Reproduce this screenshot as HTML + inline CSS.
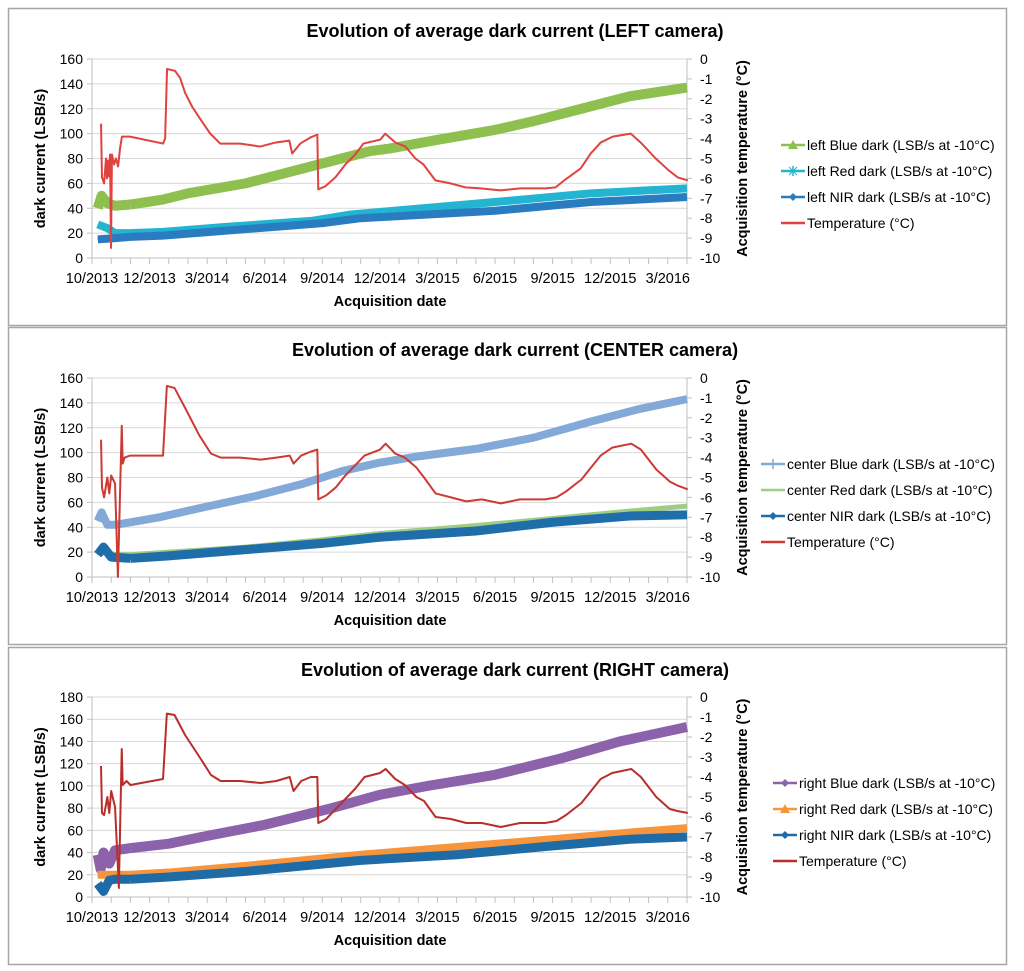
<!DOCTYPE html>
<html><head><meta charset="utf-8"><style>
body{margin:0;background:#fff;width:1024px;height:971px;overflow:hidden;font-family:"Liberation Sans",sans-serif}
svg{display:block}
</style></head><body>
<svg id="s" width="1024" height="971" xmlns="http://www.w3.org/2000/svg"></svg>
<script>
const xTickLabels=["10/2013","12/2013","3/2014","6/2014","9/2014","12/2014","3/2015","6/2015","9/2015","12/2015","3/2016"];
const leftBlue=[[0.3,40],[0.5,50],[0.8,44],[1.2,42],[2.0,43],[3.7,47],[5,52],[8,60],[10.5,70],[13,80],[14.5,86],[15.5,88],[18,95],[21,103],[23,110],[25.5,120],[28,130],[31,137]];
const leftRed=[[0.3,27],[0.8,24],[1.2,20],[2.0,20],[3.7,21],[7,25],[11.5,30],[13.5,35],[15,37],[21,45],[26,52],[31,56]];
const leftNir=[[0.3,15],[1.2,16],[2.0,17],[3.7,18],[7,22],[12,28],[14,32],[21,38],[26,45],[31,49]];
const leftTemp=[[0.47,-3.25],[0.52,-5.94],[0.63,-6.25],[0.73,-5.0],[0.78,-6.0],[0.83,-5.1],[0.89,-5.9],[0.94,-4.8],[0.99,-9.5],[1.04,-4.8],[1.15,-5.3],[1.25,-5.0],[1.36,-5.4],[1.46,-4.5],[1.56,-3.9],[1.98,-3.9],[3.70,-4.25],[3.81,-4.0],[3.91,-0.5],[4.33,-0.6],[4.59,-0.95],[4.85,-1.7],[5.22,-2.4],[5.63,-3.0],[6.16,-3.75],[6.68,-4.25],[7.72,-4.25],[8.76,-4.4],[9.55,-4.2],[10.28,-4.1],[10.43,-4.75],[10.85,-4.25],[11.37,-3.95],[11.74,-3.8],[11.79,-6.55],[12.15,-6.4],[12.68,-5.95],[13.2,-5.3],[13.72,-4.8],[14.14,-4.25],[15.02,-4.05],[15.28,-3.75],[15.81,-4.2],[16.33,-4.4],[16.85,-5.0],[17.27,-5.3],[17.89,-6.1],[18.68,-6.25],[19.46,-6.45],[20.24,-6.5],[21.28,-6.6],[22.33,-6.5],[23.63,-6.5],[24.15,-6.45],[24.67,-6.05],[25.46,-5.5],[25.98,-4.75],[26.5,-4.2],[27.13,-3.9],[28.07,-3.75],[28.59,-4.2],[29.37,-5.0],[30.05,-5.6],[30.52,-5.95],[31.04,-6.1]];
const centerBlue=[[0.3,45],[0.5,52],[0.8,42],[1.2,42],[2.0,44],[3.5,48],[5.5,55],[8.5,65],[11,75],[13,85],[15,92],[17,97],[20,103],[23,112],[26,125],[28.5,135],[31,143]];
const centerRed=[[0.3,20],[1.2,18],[2.0,18],[4,20],[8,24],[12,30],[15,35],[19,40],[24,47],[28,53],[31,57]];
const centerNir=[[0.3,18],[0.6,24],[1.0,16],[2.0,15],[4,17],[8,22],[12,27],[15,32],[20,37],[24,44],[28,49],[31,50]];
const centerTemp=[[0.47,-3.1],[0.52,-5.5],[0.63,-6.0],[0.8,-5.0],[0.9,-5.8],[1.0,-4.9],[1.2,-5.3],[1.35,-10],[1.55,-2.4],[1.6,-4.3],[1.7,-4.0],[1.98,-3.9],[3.7,-3.9],[3.9,-0.4],[4.3,-0.5],[4.85,-1.5],[5.6,-2.9],[6.2,-3.8],[6.7,-4.0],[7.7,-4.0],[8.8,-4.1],[9.6,-4.0],[10.3,-3.9],[10.5,-4.3],[10.9,-3.9],[11.4,-3.7],[11.74,-3.6],[11.79,-6.1],[12.2,-5.9],[12.7,-5.5],[13.2,-4.9],[13.7,-4.4],[14.2,-3.9],[15.0,-3.6],[15.3,-3.3],[15.8,-3.8],[16.3,-4.0],[16.9,-4.5],[17.3,-5.0],[17.9,-5.8],[18.7,-6.0],[19.5,-6.2],[20.3,-6.1],[21.3,-6.3],[22.3,-6.1],[23.6,-6.1],[24.2,-6.0],[24.7,-5.7],[25.5,-5.1],[26.0,-4.5],[26.5,-3.9],[27.1,-3.5],[28.1,-3.3],[28.6,-3.6],[29.4,-4.6],[30.1,-5.2],[30.5,-5.4],[31.04,-5.6]];
const rightBlue=[[0.3,38],[0.45,25],[0.6,40],[0.9,30],[1.2,42],[2.0,44],[4,48],[6,55],[9,65],[12.5,80],[15,92],[17.5,100],[21,110],[24.5,125],[27.5,140],[31,153]];
const rightRed=[[0.3,20],[1.2,20],[2.0,20],[4,22],[8,28],[11,33],[14,38],[19,45],[24,52],[28,58],[31,62]];
const rightNir=[[0.3,12],[0.6,5],[0.9,15],[1.2,16],[2.0,16],[4,18],[8,23],[11,28],[14,33],[19,38],[24,46],[28,52],[31,54]];
const rightTemp=[[0.47,-3.45],[0.52,-5.8],[0.63,-5.9],[0.8,-5.0],[0.9,-5.8],[1.0,-4.7],[1.2,-5.5],[1.4,-9.55],[1.55,-2.6],[1.6,-4.4],[1.8,-4.2],[2.0,-4.4],[3.7,-4.1],[3.9,-0.83],[4.3,-0.9],[4.85,-1.9],[5.6,-3.0],[6.2,-3.9],[6.7,-4.2],[7.7,-4.2],[8.8,-4.3],[9.6,-4.2],[10.3,-4.0],[10.5,-4.7],[10.9,-4.2],[11.4,-4.0],[11.74,-4.0],[11.79,-6.3],[12.2,-6.1],[12.7,-5.6],[13.2,-5.1],[13.7,-4.6],[14.2,-4.0],[15.0,-3.8],[15.3,-3.6],[15.8,-4.1],[16.3,-4.4],[16.9,-5.0],[17.3,-5.2],[17.9,-6.0],[18.7,-6.1],[19.5,-6.3],[20.3,-6.3],[21.3,-6.5],[22.3,-6.3],[23.6,-6.3],[24.2,-6.2],[24.7,-5.9],[25.5,-5.3],[26.0,-4.7],[26.5,-4.1],[27.1,-3.8],[28.1,-3.6],[28.6,-4.0],[29.4,-5.0],[30.1,-5.6],[30.5,-5.7],[31.04,-5.8]];

const NS="http://www.w3.org/2000/svg";
const svg=document.getElementById('s');
function mk(tag,attrs,parent,txt){const e=document.createElementNS(NS,tag);for(const k in attrs)e.setAttribute(k,attrs[k]);if(txt!==undefined)e.textContent=txt;(parent||svg).appendChild(e);return e;}

const panels=[
 {name:'left',title:'Evolution of average dark current (LEFT camera)',y0:8,top:59,bot:258,ymax:160,lx:781,
  series:[{d:leftBlue,c:'#8dc04f',lab:'left Blue dark (LSB/s at -10°C)',m:'tri',w:10},{d:leftRed,c:'#22b4d0',lab:'left Red dark (LSB/s at -10°C)',m:'star',w:8},{d:leftNir,c:'#2a7cc0',lab:'left NIR dark (LSB/s at -10°C)',m:'dia',w:8}],temp:leftTemp,tc:'#e0423f'},
 {name:'center',title:'Evolution of average dark current (CENTER camera)',y0:327,top:378,bot:577,ymax:160,lx:761,
  series:[{d:centerBlue,c:'#82a9d8',lab:'center Blue dark (LSB/s at -10°C)',m:'plus',w:8},{d:centerRed,c:'#9fcd83',lab:'center Red dark (LSB/s at -10°C)',m:'none',w:5},{d:centerNir,c:'#1f6eaa',lab:'center NIR dark (LSB/s at -10°C)',m:'dia',w:9}],temp:centerTemp,tc:'#cc3a33'},
 {name:'right',title:'Evolution of average dark current (RIGHT camera)',y0:647,top:697,bot:897,ymax:180,lx:773,
  series:[{d:rightBlue,c:'#8c62ab',lab:'right Blue dark (LSB/s at -10°C)',m:'dia',w:10},{d:rightRed,c:'#f7953c',lab:'right Red dark (LSB/s at -10°C)',m:'tri',w:8},{d:rightNir,c:'#1e6ba6',lab:'right NIR dark (LSB/s at -10°C)',m:'dia',w:9}],temp:rightTemp,tc:'#b82e2b'}
];
const X0=92,X1=687,XMAX=31;
panels.forEach(p=>{
 const g=mk('g',{});
 
 
 const fr=mk('rect',{x:8.5,y:p.y0+0.5,width:998,height:317,fill:'#fff',stroke:'#a6a6a6','stroke-width':1.5},g);
 
 const t=mk('text',{x:515,y:p.y0+29,'text-anchor':'middle','font-size':18,'font-weight':'bold',fill:'#000'},g,p.title);
 
 const sx=m=>X0+(X1-X0)*m/XMAX;
 const sy=v=>p.bot-(p.bot-p.top)*v/p.ymax;
 const st=c=>p.bot-(p.bot-p.top)*(c+10)/10;
 const step=20, n=p.ymax/step;
 for(let i=0;i<=n;i++){
  const y=sy(i*step);
  if(i>0){const gl=mk('line',{x1:X0,x2:X1,y1:y,y2:y,stroke:'#d9d9d9','stroke-width':1},g);}
  mk('line',{x1:X0-5,x2:X0,y1:y,y2:y,stroke:'#bfbfbf'},g);
  const tl=mk('text',{x:83,y:y+5,'text-anchor':'end','font-size':14,fill:'#000'},g,String(i*step));
  
 }
 for(let i=0;i<=10;i++){
  const c=-i,y=st(c);
  mk('line',{x1:X1,x2:X1+5,y1:y,y2:y,stroke:'#bfbfbf'},g);
  const tl=mk('text',{x:700,y:y+5,'font-size':14,fill:'#000'},g,String(c));
  
 }
 mk('line',{x1:X0,x2:X0,y1:p.top,y2:p.bot,stroke:'#bfbfbf'},g);
 mk('line',{x1:X1,x2:X1,y1:p.top,y2:p.bot,stroke:'#bfbfbf'},g);
 mk('line',{x1:X0,x2:X1,y1:p.bot,y2:p.bot,stroke:'#bfbfbf'},g);
 for(let i=0;i<=XMAX;i++){mk('line',{x1:sx(i),x2:sx(i),y1:p.bot,y2:p.bot+6,stroke:'#bfbfbf'},g);}
 xTickLabels.forEach((l,i)=>{
  const tl=mk('text',{x:sx(i*3),y:p.bot+25,'text-anchor':'middle','font-size':14.5,fill:'#000'},g,l);
  
 });
 const xt=mk('text',{x:390,y:p.bot+48,'text-anchor':'middle','font-size':14.5,'font-weight':'bold'},g,'Acquisition date');
 
 const ym=(p.top+p.bot)/2;
 const yt=mk('text',{x:0,y:0,'text-anchor':'middle','font-size':14.5,'font-weight':'bold',transform:`translate(45,${ym}) rotate(-90)`},g,'dark current (LSB/s)');
 
 const y2=mk('text',{x:0,y:0,'text-anchor':'middle','font-size':14.5,'font-weight':'bold',transform:`translate(747,${ym}) rotate(-90)`},g,'Acquisition temperature (°C)');
 
 p.series.forEach((s,si)=>{
  const pts=s.d.map(q=>sx(q[0])+','+sy(q[1]));
  const a=s.d.filter(q=>q[0]<=2.01), b=s.d.filter(q=>q[0]>=2.0);
  const thin=mk('polyline',{points:pts.join(' '),fill:'none',stroke:s.c,'stroke-width':2},g);
  
  [a,b].forEach(seg=>{
   const pl=mk('polyline',{points:seg.map(q=>sx(q[0])+','+sy(q[1])).join(' '),fill:'none',stroke:s.c,'stroke-width':s.w,'stroke-linejoin':'round'},g);
   
  });
 });
 const tp=mk('polyline',{points:p.temp.map(q=>sx(q[0])+','+st(q[1])).join(' '),fill:'none',stroke:p.tc,'stroke-width':2,'stroke-linejoin':'round'},g);
 
 const items=p.series.concat([{c:p.tc,lab:'Temperature (°C)',m:'none'}]);
 items.forEach((it,i)=>{
  const ly=p.top+86+i*26;
  const lg=mk('g',{},g);
  
  mk('line',{x1:p.lx,x2:p.lx+24,y1:ly,y2:ly,stroke:it.c,'stroke-width':2.5},lg);
  const cx=p.lx+12;
  if(it.m==='tri')mk('polygon',{points:`${cx-5},${ly+4} ${cx+5},${ly+4} ${cx},${ly-5}`,fill:it.c},lg);
  if(it.m==='dia')mk('polygon',{points:`${cx},${ly-4} ${cx+4},${ly} ${cx},${ly+4} ${cx-4},${ly}`,fill:it.c},lg);
  if(it.m==='star'||it.m==='plus'){mk('line',{x1:cx,x2:cx,y1:ly-5,y2:ly+5,stroke:it.c,'stroke-width':1.5},lg);}
  if(it.m==='star'){mk('line',{x1:cx-4,x2:cx+4,y1:ly-4,y2:ly+4,stroke:it.c},lg);mk('line',{x1:cx-4,x2:cx+4,y1:ly+4,y2:ly-4,stroke:it.c},lg);}
  mk('text',{x:p.lx+26,y:ly+5,'font-size':14,fill:'#000'},lg,it.lab);
 });
});
</script>
</body></html>
